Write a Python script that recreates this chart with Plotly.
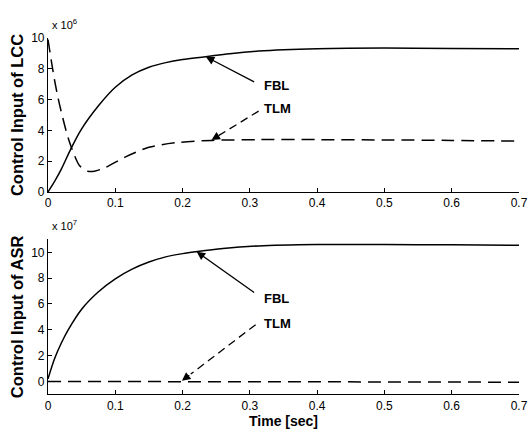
import plotly.graph_objects as go

# ---- data ----
t_lcc_fbl = [0, 0.01, 0.02, 0.034, 0.05, 0.075, 0.1, 0.125, 0.15, 0.175, 0.2, 0.234, 0.27, 0.313, 0.4, 0.5, 0.6, 0.7]
lcc_fbl = [0.0, 0.7, 1.5, 2.8, 4.1, 5.6, 6.8, 7.6, 8.1, 8.4, 8.6, 8.78, 8.98, 9.15, 9.3, 9.35, 9.32, 9.3]

t_lcc_tlm = [0, 0.005, 0.01, 0.017, 0.03, 0.04, 0.047, 0.059, 0.069, 0.086, 0.116, 0.15, 0.19, 0.244, 0.313, 0.4, 0.5, 0.6, 0.7]
lcc_tlm = [9.9, 8.5, 7.2, 5.7, 3.5, 2.3, 1.7, 1.35, 1.35, 1.6, 2.3, 2.9, 3.2, 3.35, 3.4, 3.4, 3.38, 3.35, 3.3]

t_asr_fbl = [0, 0.01, 0.02, 0.03, 0.05, 0.075, 0.1, 0.125, 0.15, 0.175, 0.2, 0.22, 0.26, 0.313, 0.4, 0.5, 0.6, 0.7]
asr_fbl = [0.2, 1.8, 3.0, 4.0, 5.6, 6.95, 7.95, 8.7, 9.25, 9.65, 9.9, 10.05, 10.3, 10.5, 10.6, 10.6, 10.58, 10.55]

t_asr_tlm = [0, 0.1, 0.2, 0.3, 0.4, 0.5, 0.6, 0.7]
asr_tlm = [0, 0, 0, 0, 0, -0.02, -0.04, -0.06]

x_ticks = [0, 0.1, 0.2, 0.3, 0.4, 0.5, 0.6, 0.7]
x_tick_labels = ["0", "0.1", "0.2", "0.3", "0.4", "0.5", "0.6", "0.7"]
lcc_yticks = [0, 2, 4, 6, 8, 10]
asr_yticks = [0, 2, 4, 6, 8, 10]

FONT = "Liberation Sans, Arial, sans-serif"
DASH = "13px,7px"

fig = go.Figure()
fig.add_trace(go.Scatter(x=t_lcc_fbl, y=lcc_fbl, mode="lines", line=dict(color="black", width=1.5, shape="spline", smoothing=1.0), xaxis="x", yaxis="y"))
fig.add_trace(go.Scatter(x=t_lcc_tlm, y=lcc_tlm, mode="lines", line=dict(color="black", width=1.5, dash=DASH, shape="spline", smoothing=0.8), xaxis="x", yaxis="y"))
fig.add_trace(go.Scatter(x=t_asr_fbl, y=asr_fbl, mode="lines", line=dict(color="black", width=1.5, shape="spline", smoothing=1.0), xaxis="x2", yaxis="y2"))
fig.add_trace(go.Scatter(x=t_asr_tlm, y=asr_tlm, mode="lines", line=dict(color="black", width=1.5, dash=DASH), xaxis="x2", yaxis="y2"))

axis_common = dict(showline=True, linecolor="black", linewidth=1.2, mirror=False, ticks="inside",
                   ticklen=4, tickcolor="black", showgrid=False, zeroline=False,
                   tickfont=dict(family=FONT, size=12, color="black"))

fig.update_layout(
    width=529, height=444,
    margin=dict(l=48, r=10, t=0, b=0),
    paper_bgcolor="white", plot_bgcolor="white",
    showlegend=False,
    xaxis=dict(domain=[0, 1], anchor="y", range=[0, 0.7], tickvals=x_ticks, ticktext=x_tick_labels,
               ticklabeloverflow="allow", **axis_common),
    yaxis=dict(domain=[1 - 191 / 444, 1 - 32 / 444], anchor="x", range=[0, 10], tickvals=lcc_yticks,
               title=dict(text="<b>Control Input of LCC</b>", font=dict(family=FONT, size=16.5, color="black"), standoff=3),
               **axis_common),
    xaxis2=dict(domain=[0, 1], anchor="y2", range=[0, 0.7], tickvals=x_ticks, ticktext=x_tick_labels,
                ticklabeloverflow="allow",
                title=dict(text="<b>Time [sec]</b>", font=dict(family=FONT, size=14, color="black"), standoff=2),
                **axis_common),
    yaxis2=dict(domain=[1 - 400 / 444, 1 - 240 / 444], anchor="x2", range=[-1, 11], tickvals=asr_yticks,
                title=dict(text="<b>Control Input of ASR</b>", font=dict(family=FONT, size=16.5, color="black"), standoff=3),
                **axis_common),
)

ann = []
# exponent labels
ann.append(dict(text="x 10<sup>6</sup>", xref="paper", yref="paper", x=0.005, y=1 - 27 / 444, xanchor="left", yanchor="bottom",
                showarrow=False, font=dict(family=FONT, size=11, color="black")))
ann.append(dict(text="x 10<sup>7</sup>", xref="paper", yref="paper", x=0.005, y=1 - 234 / 444, xanchor="left", yanchor="bottom",
                showarrow=False, font=dict(family=FONT, size=11, color="black")))

def arrow(xr, yr, x, y, ax, ay):
    return dict(x=x, y=y, ax=ax, ay=ay, xref=xr, yref=yr, axref=xr, ayref=yr, text="", showarrow=True,
                arrowhead=2, arrowsize=1.3, arrowwidth=1.3, arrowcolor="black")

def arrow_head(xr, yr, x, y, ax, ay):
    return dict(x=x, y=y, ax=x + (ax - x) * 0.12, ay=y + (ay - y) * 0.12, xref=xr, yref=yr, axref=xr, ayref=yr,
                text="", showarrow=True, arrowhead=2, arrowsize=1.3, arrowwidth=1.3, arrowcolor="black")

# top panel arrows
ann.append(arrow("x", "y", 0.2346, 8.78, 0.3086, 7.1))
ann.append(arrow_head("x", "y", 0.243, 3.38, 0.313, 5.25))
# bottom panel arrows
ann.append(arrow("x2", "y2", 0.221, 10.05, 0.3086, 6.8))
ann.append(arrow_head("x2", "y2", 0.199, 0.05, 0.3086, 4.4))

for xr, yr, x, y, txt in [("x", "y", 0.318, 6.9, "FBL"), ("x", "y", 0.318, 5.45, "TLM"),
                          ("x2", "y2", 0.318, 6.4, "FBL"), ("x2", "y2", 0.318, 4.5, "TLM")]:
    ann.append(dict(x=x, y=y, xref=xr, yref=yr, text="<b>%s</b>" % txt, showarrow=False, xanchor="left",
                    yanchor="middle", font=dict(family=FONT, size=13, color="black")))

fig.update_layout(annotations=ann)

# dashed shaft lines for TLM arrows
shapes = []
for xr, yr, x, y, ax, ay in [("x", "y", 0.243, 3.38, 0.313, 5.25), ("x2", "y2", 0.199, 0.05, 0.3086, 4.4)]:
    shapes.append(dict(type="line", xref=xr, yref=yr, x0=ax, y0=ay, x1=x + (ax - x) * 0.12, y1=y + (ay - y) * 0.12,
                       line=dict(color="black", width=1.3, dash="8px,5px")))
fig.update_layout(shapes=shapes)

fig.write_html("out.html", config={"displayModeBar": False},
               post_script="document.body.style.margin='0px';document.body.style.overflow='hidden';")
